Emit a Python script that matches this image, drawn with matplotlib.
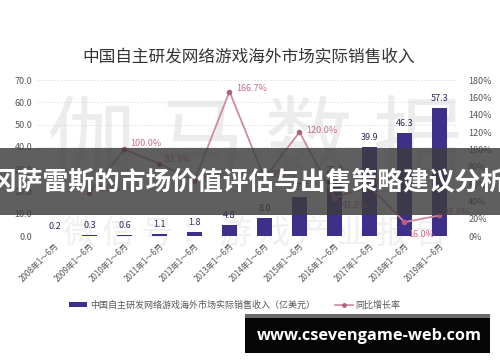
import matplotlib
matplotlib.use('Agg')
import matplotlib.pyplot as plt
from matplotlib.patches import Rectangle, Patch
from matplotlib.lines import Line2D
import numpy as np

plt.rcParams['font.family'] = ['Noto Sans CJK SC', 'DejaVu Sans']

# 数据
years = ['2008年1～6月', '2009年1～6月', '2010年1～6月', '2011年1～6月', '2012年1～6月',
         '2013年1～6月', '2014年1～6月', '2015年1～6月', '2016年1～6月', '2017年1～6月',
         '2018年1～6月', '2019年1～6月']
revenue = [0.2, 0.3, 0.6, 1.1, 1.8, 4.8, 8.0, 17.6, 25.3, 39.9, 46.3, 57.3]
growth = [None, 50.0, 100.0, 83.3, 63.6, 166.7, 66.7, 120.0, 43.8, 57.7, 16.0, 23.8]

bar_color = '#3e2f8a'
line_color = '#cf8aa3'
dot_color = '#b5607f'
label_pink = '#c86a8c'

fig = plt.figure(figsize=(5, 3.62), dpi=100)
ax = fig.add_axes([0.074, 0.348, 0.84, 0.431])
ax.patch.set_alpha(0)

x = np.arange(len(years))
ax.bar(x, revenue, width=0.42, color=bar_color, zorder=2)
for xi, v in zip(x, revenue):
    ax.text(xi, v + 2.2, f'{v:.1f}', ha='center', va='bottom', fontsize=6.5,
            color='#2e2a5e', zorder=4)

ax.set_xlim(-0.5, len(years) - 0.5)
ax.set_ylim(0, 70)
ax.set_yticks(np.arange(0, 71, 10))
ax.set_yticklabels([f'{t:.1f}' for t in np.arange(0, 71, 10)], fontsize=6.5, color='#555555')
ax.yaxis.grid(True, color='#dddddd', linestyle=(0, (2, 2)), linewidth=0.6)
ax.set_axisbelow(True)
ax.tick_params(axis='both', length=0)
ax.set_xticks(x)
ax.set_xticklabels(years, rotation=45, ha='right', rotation_mode='anchor',
                   fontsize=5.8, color='#555555')
ax.tick_params(axis='x', pad=4)
for s in ax.spines.values():
    s.set_visible(False)

ax2 = ax.twinx()
gx = [xi for xi, g in zip(x, growth) if g is not None]
gy = [g for g in growth if g is not None]
ax2.plot(gx, gy, color=line_color, linewidth=1.3, marker='o', markersize=3,
         markerfacecolor=dot_color, markeredgecolor=dot_color, zorder=3)
ax2.set_ylim(0, 180)
ax2.set_yticks(np.arange(0, 181, 20))
ax2.set_yticklabels([f'{t}%' for t in range(0, 181, 20)], fontsize=6.5, color='#555555')
ax2.tick_params(axis='y', length=0, pad=8)
for s in ax2.spines.values():
    s.set_visible(False)

offsets = {2: (4, 4), 3: (4, 3), 5: (5, 2), 7: (5, 1), 8: (5, -5), 10: (3, -9), 11: (3, 2),
           1: (4, 3), 4: (4, 3), 6: (4, 3), 9: (4, 3)}
for xi, g in zip(gx, gy):
    dx, dy = offsets[xi]
    ax2.annotate(f'{g:.1f}%', (xi, g), xytext=(dx, dy), textcoords='offset points',
                 fontsize=6.5, color=label_pink, ha='left', va='center')

fig.text(0.497, 0.843, '中国自主研发网络游戏海外市场实际销售收入', ha='center', va='center',
         fontsize=12, color='#333333')

# 水印
fig.text(0.51, 0.60, '伽 马 数 据', ha='center', va='center', fontsize=64,
         color='#ececec', zorder=-1)
fig.text(0.51, 0.355, '微 信 号 ： 游 戏 产 业 报 告', ha='center', va='center', fontsize=23,
         color='#f0f0f0', zorder=-1)

# 图例
handles = [Patch(facecolor=bar_color),
           Line2D([0], [0], color=line_color, marker='o', markersize=2.5,
                  markerfacecolor=dot_color, markeredgecolor=dot_color, linewidth=1.2)]
fig.legend(handles, ['中国自主研发网络游戏海外市场实际销售收入（亿美元）', '同比增长率'],
           loc='center', bbox_to_anchor=(0.47, 0.157), ncol=2, frameon=False,
           fontsize=6.5, handlelength=2.0, handleheight=0.5, columnspacing=2.2,
           handletextpad=0.3, labelcolor='#555555')

# 横幅
fig.patches.append(Rectangle((0, 0.406), 1, 0.185, transform=fig.transFigure,
                             facecolor='#3c3c3c', alpha=0.82, zorder=10))
fig.text(0.497, 0.497, '冈萨雷斯的市场价值评估与出售策略建议分析', ha='center', va='center',
         fontsize=18.5, fontweight='bold', color='white', zorder=11)

fig.patches.append(Rectangle((0.49, 0.025), 0.49, 0.108, transform=fig.transFigure,
                             facecolor='#6a6a6a', zorder=10))
fig.patches.append(Rectangle((0.49, 0.025), 0.49, 0.097, transform=fig.transFigure,
                             facecolor='#050505', zorder=11))
fig.text(0.738, 0.073, 'www.csevengame-web.com', ha='center', va='center',
         fontsize=11.8, fontweight='bold', color='white', family=['Open Sans', 'DejaVu Sans'],
         zorder=12)

fig.savefig('out.png', dpi=100)
